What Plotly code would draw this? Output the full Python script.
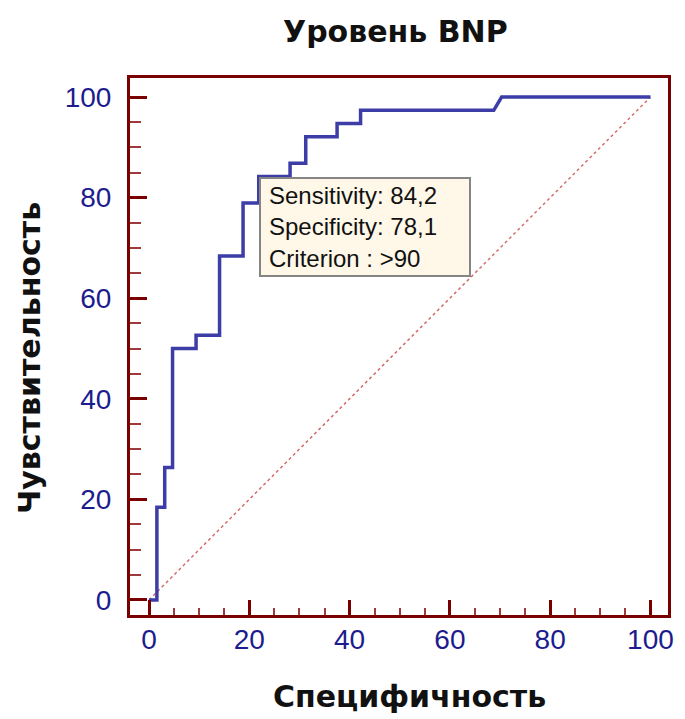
import plotly.graph_objects as go

# ROC curve vertices: x = 100 - specificity (%), y = sensitivity (%)
fpr = [0, 1.5625, 1.5625, 3.125, 3.125, 4.6875, 4.6875, 9.375, 9.375,
       14.0625, 14.0625, 18.75, 18.75, 21.875, 21.875, 28.125, 28.125,
       31.25, 31.25, 37.5, 37.5, 42.1875, 42.1875, 68.75, 70.3125, 100]
tpr = [0, 0, 18.42, 18.42, 26.32, 26.32, 50.0, 50.0, 52.63, 52.63,
       68.42, 68.42, 78.95, 78.95, 84.21, 84.21, 86.84, 86.84, 92.11,
       92.11, 94.74, 94.74, 97.37, 97.37, 100, 100]

# chance line
diag = [0, 100]

# optimal cut-off
best_sens = 84.2
best_spec = 78.1
criterion = ">90"

tick_vals = [0, 20, 40, 60, 80, 100]
tick_text = ["0", "20", "40", "60", "80", "100"]

frame = "#7a0000"
minor_col = "#a03a3a"
tick_font = dict(family="Liberation Sans, Arial, sans-serif", size=28, color="#1c1c8e")
bold_font = dict(family="DejaVu Sans, sans-serif", size=30, color="#111111")

fig = go.Figure()
fig.add_trace(go.Scatter(x=diag, y=diag, mode="lines",
                         line=dict(color="#d46a6a", width=1.5, dash="dot"),
                         hoverinfo="skip"))
fig.add_trace(go.Scatter(x=fpr, y=tpr, mode="lines",
                         line=dict(color="#3d3da8", width=3.5),
                         hoverinfo="skip"))

fig.add_annotation(
    x=100 - best_spec, y=best_sens, xref="x", yref="y",
    xanchor="left", yanchor="top", showarrow=False, align="left",
    text=f"Sensitivity: {str(best_sens).replace('.', ',')}<br>"
         f"Specificity: {str(best_spec).replace('.', ',')}<br>"
         f"Criterion : {criterion}",
    font=dict(family="Liberation Sans, Arial, sans-serif", size=24, color="#111111"),
    bgcolor="#fff8e8", bordercolor="#858585", borderwidth=2, borderpad=8,
    width=192, height=80,
)

fig.add_annotation(text="<b>Уровень BNP</b>", x=0.4926, y=1.0857,
                   xref="paper", yref="paper", showarrow=False,
                   xanchor="center", yanchor="middle", font=bold_font)
fig.add_annotation(text="<b>Специфичность</b>", x=0.5186, y=-0.1527,
                   xref="paper", yref="paper", showarrow=False,
                   xanchor="center", yanchor="middle", font=bold_font)
fig.add_annotation(text="<b>Чувствительность</b>", x=-0.1859, y=0.4786,
                   xref="paper", yref="paper", showarrow=False, textangle=-90,
                   xanchor="center", yanchor="middle", font=bold_font)

axis_common = dict(
    showline=True, linecolor=frame, linewidth=3, mirror=True,
    showgrid=False, zeroline=False,
    ticks="inside", tickcolor=frame, tickwidth=2.5,
    tickvals=tick_vals, ticktext=tick_text, tickfont=tick_font,
)
fig.update_xaxes(range=[-3.8, 103.5], ticklen=15,
                 minor=dict(ticks="inside", dtick=5, tick0=0, ticklen=7,
                            tickwidth=2, tickcolor=minor_col),
                 ticklabelstandoff=-3, **axis_common)
fig.update_yaxes(range=[-3.0, 103.8], ticklen=17,
                 minor=dict(ticks="inside", dtick=5, tick0=0, ticklen=11,
                            tickwidth=2, tickcolor=minor_col),
                 ticklabelstandoff=10, **axis_common)

fig.update_layout(
    width=685, height=719,
    margin=dict(l=130, r=17, t=78, b=104),
    plot_bgcolor="white", paper_bgcolor="white",
    showlegend=False,
)

fig.write_html("out.html")
